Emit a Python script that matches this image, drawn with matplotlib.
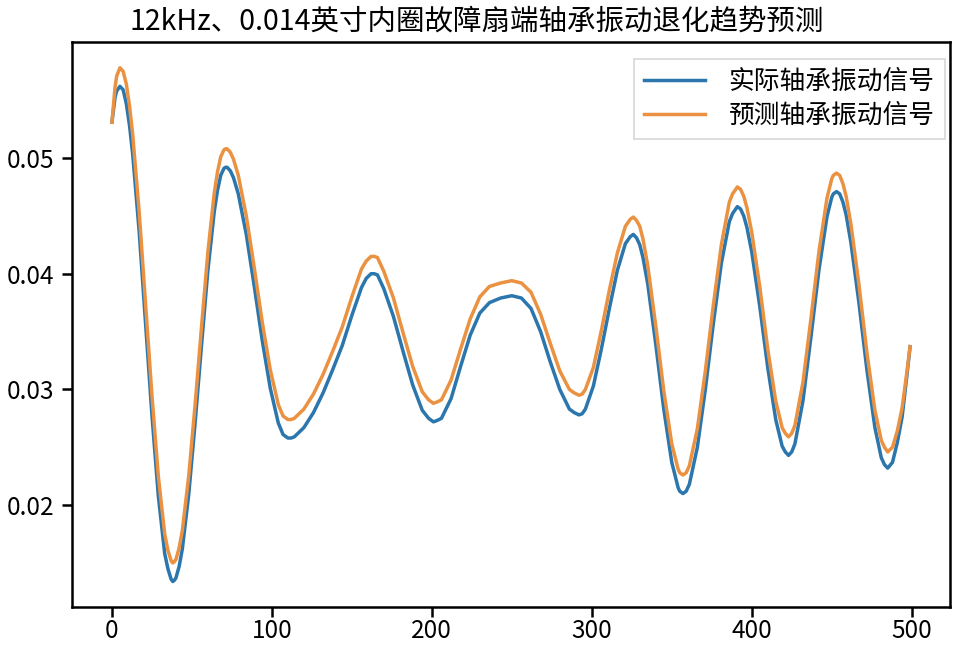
"""Bearing vibration degradation trend: actual vs predicted signal."""
import matplotlib
matplotlib.use('Agg')
import matplotlib.pyplot as plt

plt.rcParams['font.family'] = ['Noto Sans CJK SC', 'DejaVu Sans']

TITLE = '12kHz、0.014英寸内圈故障扇端轴承振动退化趋势预测'
LABEL_ACTUAL = '实际轴承振动信号'
LABEL_PRED = '预测轴承振动信号'

# sample index
x = [0, 2, 3, 5, 7, 9, 11, 13, 17, 21, 25, 29, 33, 35, 37, 38, 39, 40, 42, 44,
     48, 52, 56, 60, 64, 66, 68, 70, 71, 72, 74, 76, 79, 84, 89, 94, 99, 104,
     107, 110, 112, 114, 120, 126, 132, 138, 144, 150, 156, 159, 162, 164, 166,
     170, 176, 182, 188, 194, 198, 201, 203, 206, 212, 218, 224, 230, 236, 243,
     250, 256, 262, 268, 274, 280, 286, 289, 292, 294, 296, 301, 306, 311, 316,
     321, 324, 326, 328, 330, 332, 335, 340, 345, 350, 354, 355, 357, 359, 361,
     366, 371, 376, 381, 386, 388, 391, 393, 395, 397, 400, 405, 410, 415, 419,
     421, 423, 425, 427, 432, 437, 442, 447, 450, 451, 453, 455, 457, 459, 462,
     467, 472, 477, 481, 483, 485, 488, 491, 494, 497, 499]

actual = [0.0531, 0.0553, 0.0558, 0.0562, 0.0559, 0.0547, 0.0528, 0.0503, 0.0437,
          0.0358, 0.0278, 0.0208, 0.0158, 0.0145, 0.0136, 0.0134, 0.0135, 0.0137,
          0.0147, 0.0162, 0.0209, 0.0271, 0.0338, 0.0403, 0.0454, 0.0472, 0.0485,
          0.0491, 0.0492, 0.0492, 0.0489, 0.0483, 0.0469, 0.0434, 0.0389, 0.0342,
          0.0301, 0.0271, 0.0261, 0.0258, 0.0258, 0.0259, 0.0267, 0.0280, 0.0297,
          0.0317, 0.0338, 0.0364, 0.0388, 0.0396, 0.0400, 0.0400, 0.0399, 0.0387,
          0.0363, 0.0333, 0.0304, 0.0282, 0.0275, 0.0272, 0.0273, 0.0275, 0.0292,
          0.0320, 0.0347, 0.0366, 0.0375, 0.0379, 0.0381, 0.0379, 0.0370, 0.0350,
          0.0324, 0.0300, 0.0283, 0.0280, 0.0278, 0.0279, 0.0283, 0.0303, 0.0335,
          0.0370, 0.0403, 0.0426, 0.0432, 0.0434, 0.0431, 0.0425, 0.0414, 0.0391,
          0.0339, 0.0283, 0.0237, 0.0215, 0.0212, 0.0210, 0.0212, 0.0218, 0.0250,
          0.0300, 0.0357, 0.0409, 0.0445, 0.0452, 0.0458, 0.0456, 0.0450, 0.0440,
          0.0419, 0.0372, 0.0319, 0.0274, 0.0251, 0.0246, 0.0243, 0.0246, 0.0253,
          0.0290, 0.0345, 0.0403, 0.0449, 0.0466, 0.0469, 0.0471, 0.0469, 0.0462,
          0.0451, 0.0427, 0.0375, 0.0317, 0.0267, 0.0241, 0.0235, 0.0232, 0.0237,
          0.0254, 0.0276, 0.0312, 0.0337]

predicted = [0.0531, 0.0562, 0.0571, 0.0578, 0.0575, 0.0564, 0.0545, 0.0520, 0.0454,
             0.0375, 0.0295, 0.0225, 0.0175, 0.0161, 0.0152, 0.0150, 0.0151, 0.0153,
             0.0163, 0.0178, 0.0225, 0.0287, 0.0354, 0.0419, 0.0470, 0.0488, 0.0501,
             0.0507, 0.0508, 0.0508, 0.0505, 0.0499, 0.0485, 0.0450, 0.0405, 0.0358,
             0.0317, 0.0287, 0.0277, 0.0274, 0.0274, 0.0275, 0.0283, 0.0296, 0.0313,
             0.0333, 0.0354, 0.0380, 0.0404, 0.0411, 0.0415, 0.0415, 0.0414, 0.0402,
             0.0379, 0.0349, 0.0320, 0.0298, 0.0291, 0.0288, 0.0289, 0.0291, 0.0308,
             0.0335, 0.0361, 0.0380, 0.0389, 0.0392, 0.0394, 0.0392, 0.0384, 0.0365,
             0.0340, 0.0316, 0.0300, 0.0297, 0.0295, 0.0296, 0.0300, 0.0319, 0.0351,
             0.0386, 0.0418, 0.0441, 0.0447, 0.0449, 0.0446, 0.0441, 0.0430, 0.0407,
             0.0355, 0.0299, 0.0253, 0.0231, 0.0228, 0.0226, 0.0228, 0.0234, 0.0266,
             0.0316, 0.0373, 0.0425, 0.0462, 0.0469, 0.0475, 0.0473, 0.0467, 0.0457,
             0.0436, 0.0389, 0.0335, 0.0290, 0.0267, 0.0262, 0.0259, 0.0262, 0.0269,
             0.0306, 0.0361, 0.0419, 0.0465, 0.0482, 0.0485, 0.0487, 0.0485, 0.0478,
             0.0467, 0.0443, 0.0391, 0.0332, 0.0282, 0.0256, 0.0250, 0.0246, 0.0250,
             0.0264, 0.0284, 0.0315, 0.0337]

xticks = [0, 100, 200, 300, 400, 500]
yticks = [0.02, 0.03, 0.04, 0.05]


def main():
    assert len(x) == len(actual) == len(predicted), (len(x), len(actual), len(predicted))

    fig = plt.figure(figsize=(9.54, 6.48), dpi=100)
    ax = fig.add_axes([0.0755, 0.063, 0.9203, 0.872])

    ax.plot(x, actual, color='#2b76ad', lw=2.5, label=LABEL_ACTUAL)
    ax.plot(x, predicted, color='#ea9241', lw=2.5, label=LABEL_PRED)

    ax.set_xticks(xticks)
    ax.set_yticks(yticks)
    ax.set_yticklabels([f'{v:.2f}' for v in yticks])
    ax.tick_params(labelsize=17.5, length=7, width=1.8)
    ax.tick_params(axis='x', pad=1)
    ax.tick_params(axis='y', pad=6)
    for s in ax.spines.values():
        s.set_linewidth(1.8)

    # title is centred on the figure, not the axes
    fig.text(0.5, 0.955, TITLE, ha='center', va='baseline', fontsize=20.5)

    leg = ax.legend(loc='upper right', fontsize=18.5, bbox_to_anchor=(1.0, 0.98),
                    borderaxespad=0.2, handlelength=2.4, handletextpad=0.9,
                    labelspacing=0.3, fancybox=False)
    leg.get_frame().set_linewidth(1.2)

    fig.savefig('out.png', dpi=100)


if __name__ == '__main__':
    main()
